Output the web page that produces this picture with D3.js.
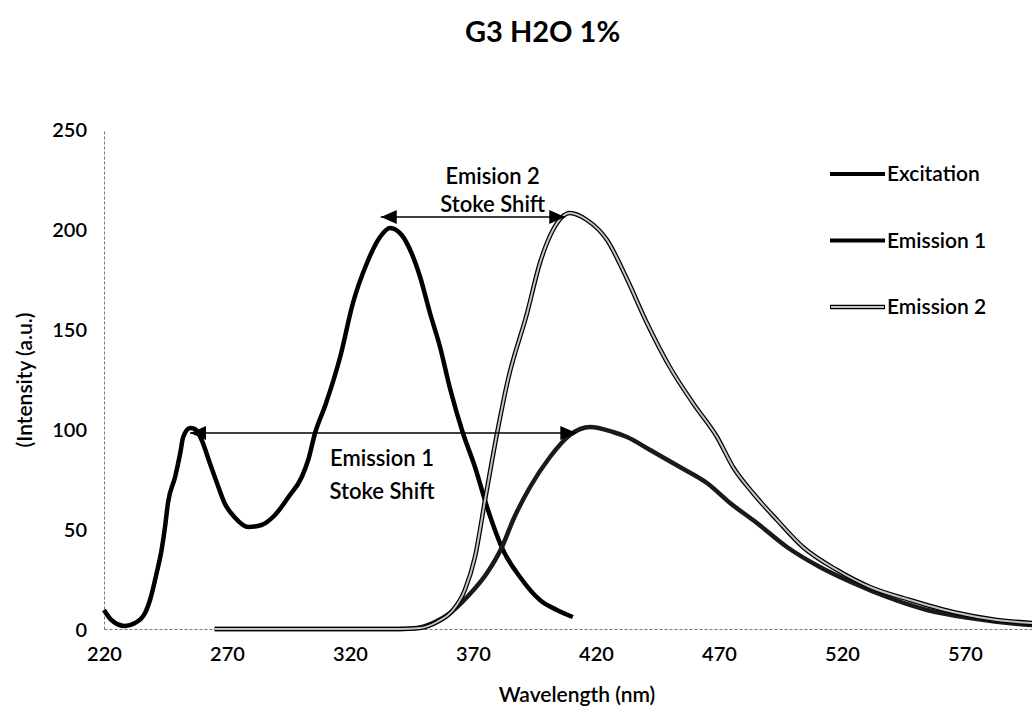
<!DOCTYPE html>
<html>
<head>
<meta charset="utf-8">
<script src="https://cdn.jsdelivr.net/npm/d3@7"></script>
<style>
  body { margin: 0; background: #fff; }
  text { font-family: Lato, 'Open Sans', sans-serif; fill: #000; font-weight: 600; }
  text.title { font-weight: 700; }
</style>
</head>
<body>
<svg id="chart" width="1032" height="712"></svg>
<script>
// wavelength (nm) / intensity (a.u.)
var excitation = [
  [220, 9.5], [223, 4.5], [228.5, 1.5], [232.6, 3], [236.7, 8], [238.7, 14.5],
  [241.4, 28], [243.4, 39.5], [244.8, 51], [246, 63], [248.9, 76], [251, 88],
  [252.2, 96], [255, 100.5], [257, 100], [259.7, 94.5], [263, 83], [266.5, 71],
  [269, 63], [273, 56], [278.7, 51], [284, 52], [289.5, 57], [295, 66],
  [300.4, 76], [303, 84.5], [305.8, 98], [310, 112], [316, 136],
  [321.2, 163], [326.9, 183], [332.2, 196], [336.3, 200.5], [341, 197],
  [345, 188], [348.5, 176], [352.5, 158], [356.6, 141], [360.5, 121], [365.9, 98],
  [370.8, 81], [375.7, 61], [382.2, 39.5], [389.1, 26], [397.2, 14.5],
  [404.1, 9.5], [410.6, 6]
];

var emission1 = [
  [265, 0], [300, 0], [340, 0], [347.2, 0.5], [353.7, 3], [360.7, 8], [367.6, 16],
  [375.7, 28], [381.8, 41], [386.3, 54.5], [393.2, 71], [401.3, 86],
  [409.4, 97], [417.6, 101], [426.9, 98.5], [432.6, 96], [442, 89.5],
  [454.1, 81], [465.1, 73], [474.5, 63], [485.4, 53], [497.6, 41], [511, 31],
  [524.5, 23], [538.3, 16], [554.6, 9.5], [572, 5.5], [597.2, 2], [600, 1.8]
];

var emission2 = [
  [265, 0], [300, 0], [340, 0], [348.5, 0.5], [355.4, 3.5], [361.9, 9.5], [366.7, 19.5],
  [370.8, 36], [374.9, 64.5], [379.8, 98], [384.2, 124.5], [392, 158],
  [397.2, 183], [402.5, 199.5], [409.4, 208], [416.3, 204.5], [424.5, 194.5],
  [432.6, 175], [440.7, 153], [450, 131], [459.4, 113], [469.2, 96],
  [475.7, 81], [483.8, 68], [493.6, 54.5], [504.1, 41], [518, 29.5],
  [531.4, 21], [547.6, 14.5], [565.1, 8.5], [583, 4.5], [597.2, 3], [600, 2.8]
];

var xTicks = [220, 270, 320, 370, 420, 470, 520, 570];
var yTicks = [0, 50, 100, 150, 200, 250];

var seriesNames = ['Excitation', 'Emission 1', 'Emission 2'];

// stoke shift arrows: [from nm, to nm, at intensity]
var shiftArrows = [
  [255, 412, 98],
  [332.5, 407.5, 206]
];
// annotation text: [label, centre nm, intensity at baseline]
var shiftLabels = [
  ['Emision 2', 378, 222.5],
  ['Stoke Shift', 378, 208.5],
  ['Emission 1', 333, 81.5],
  ['Stoke Shift', 333, 65]
];

var svg = d3.select( '#chart' ),
    x = d3.scaleLinear().domain( [ 220, 600 ] ).range( [ 104, 1038.8 ] ),
    y = d3.scaleLinear().domain( [ 0, 250 ] ).range( [ 629, 129 ] ),
    line = d3.line()
              .x( function( d ) { return x( d[ 0 ] ); } )
              .y( function( d ) { return y( d[ 1 ] ); } )
              .curve( d3.curveMonotoneX );

svg.append( 'defs' ).append( 'marker' )
    .attr( 'id', 'head' )
    .attr( 'viewBox', '0 0 16 14' )
    .attr( 'refX', 16 )
    .attr( 'refY', 7 )
    .attr( 'markerWidth', 16 )
    .attr( 'markerHeight', 14 )
    .attr( 'markerUnits', 'userSpaceOnUse' )
    .attr( 'orient', 'auto-start-reverse' )
  .append( 'path' )
    .attr( 'd', 'M0,0 L16,7 L0,14 Z' )
    .attr( 'fill', '#000' );

// title
svg.append( 'text' )
    .attr( 'class', 'title' )
    .attr( 'x', 465 )
    .attr( 'y', 42 )
    .attr( 'font-size', 29 )
    .text( 'G3 H2O 1%' );

// axes (no ticks, faint broken lines like the scan)
var xAxis = svg.append( 'g' )
    .attr( 'transform', 'translate(0,' + y( 0 ) + ')' )
    .call( d3.axisBottom( x ).tickValues( xTicks ).tickSize( 0 ).tickPadding( 18 ) );

var yAxis = svg.append( 'g' )
    .attr( 'transform', 'translate(' + x( 220 ) + ',0)' )
    .call( d3.axisLeft( y ).tickValues( yTicks ).tickSize( 0 ).tickPadding( 17 ) );

[ xAxis, yAxis ].forEach( function( g ) {
  g.select( '.domain' )
    .attr( 'stroke', '#777' )
    .attr( 'stroke-dasharray', '3,2' );
  g.selectAll( 'text' )
    .attr( 'font-family', 'Lato, sans-serif' )
    .attr( 'font-size', 20 )
    .attr( 'fill', '#000' );
} );
yAxis.selectAll( 'text' ).attr( 'dy', '0.35em' );

svg.append( 'text' )
    .attr( 'x', 577 )
    .attr( 'y', 702 )
    .attr( 'text-anchor', 'middle' )
    .attr( 'font-size', 21 )
    .text( 'Wavelength (nm)' );

svg.append( 'text' )
    .attr( 'transform', 'translate(32,380) rotate(-90)' )
    .attr( 'text-anchor', 'middle' )
    .attr( 'font-size', 21 )
    .text( '(Intensity (a.u.)' );

// series
var plot = svg.append( 'g' );

plot.append( 'path' )
    .datum( excitation )
    .attr( 'd', line )
    .attr( 'fill', 'none' )
    .attr( 'stroke', '#000' )
    .attr( 'stroke-width', 4.5 );

plot.append( 'path' )
    .datum( emission1 )
    .attr( 'd', line )
    .attr( 'fill', 'none' )
    .attr( 'stroke', '#1a1a1a' )
    .attr( 'stroke-width', 4.5 );

plot.append( 'path' )
    .datum( emission2 )
    .attr( 'd', line )
    .attr( 'fill', 'none' )
    .attr( 'stroke', '#000' )
    .attr( 'stroke-width', 4.5 );

plot.append( 'path' )
    .datum( emission2 )
    .attr( 'd', line )
    .attr( 'fill', 'none' )
    .attr( 'stroke', '#c4c4c4' )
    .attr( 'stroke-width', 2 );

// stoke shift arrows
svg.selectAll( '.shift' )
    .data( shiftArrows )
    .enter().append( 'line' )
    .attr( 'class', 'shift' )
    .attr( 'x1', function( d ) { return x( d[ 0 ] ); } )
    .attr( 'x2', function( d ) { return x( d[ 1 ] ); } )
    .attr( 'y1', function( d ) { return y( d[ 2 ] ); } )
    .attr( 'y2', function( d ) { return y( d[ 2 ] ); } )
    .attr( 'stroke', '#000' )
    .attr( 'stroke-width', 1.5 )
    .attr( 'marker-start', 'url(#head)' )
    .attr( 'marker-end', 'url(#head)' );

svg.selectAll( '.shiftLabel' )
    .data( shiftLabels )
    .enter().append( 'text' )
    .attr( 'class', 'shiftLabel' )
    .attr( 'x', function( d ) { return x( d[ 1 ] ); } )
    .attr( 'y', function( d ) { return y( d[ 2 ] ); } )
    .attr( 'text-anchor', 'middle' )
    .attr( 'font-size', 22 )
    .text( function( d ) { return d[ 0 ]; } );

// legend
var legend = svg.selectAll( '.legend' )
    .data( seriesNames )
    .enter().append( 'g' )
    .attr( 'class', 'legend' )
    .attr( 'transform', function( d, i ) {
      return 'translate(830,' + ( 174 + i * 66.5 ) + ')';
    } );

legend.append( 'line' )
    .attr( 'x1', 0 ).attr( 'x2', 55 )
    .attr( 'stroke', '#000' )
    .attr( 'stroke-width', function( d, i ) { return i === 2 ? 4.5 : 4; } );

legend.filter( function( d, i ) { return i === 2; } )
  .append( 'line' )
    .attr( 'x1', 1 ).attr( 'x2', 54 )
    .attr( 'stroke', '#c4c4c4' )
    .attr( 'stroke-width', 2 );

legend.append( 'text' )
    .attr( 'x', 57 )
    .attr( 'dy', '0.35em' )
    .attr( 'font-size', 21 )
    .text( function( d ) { return d; } );
</script>
</body>
</html>
